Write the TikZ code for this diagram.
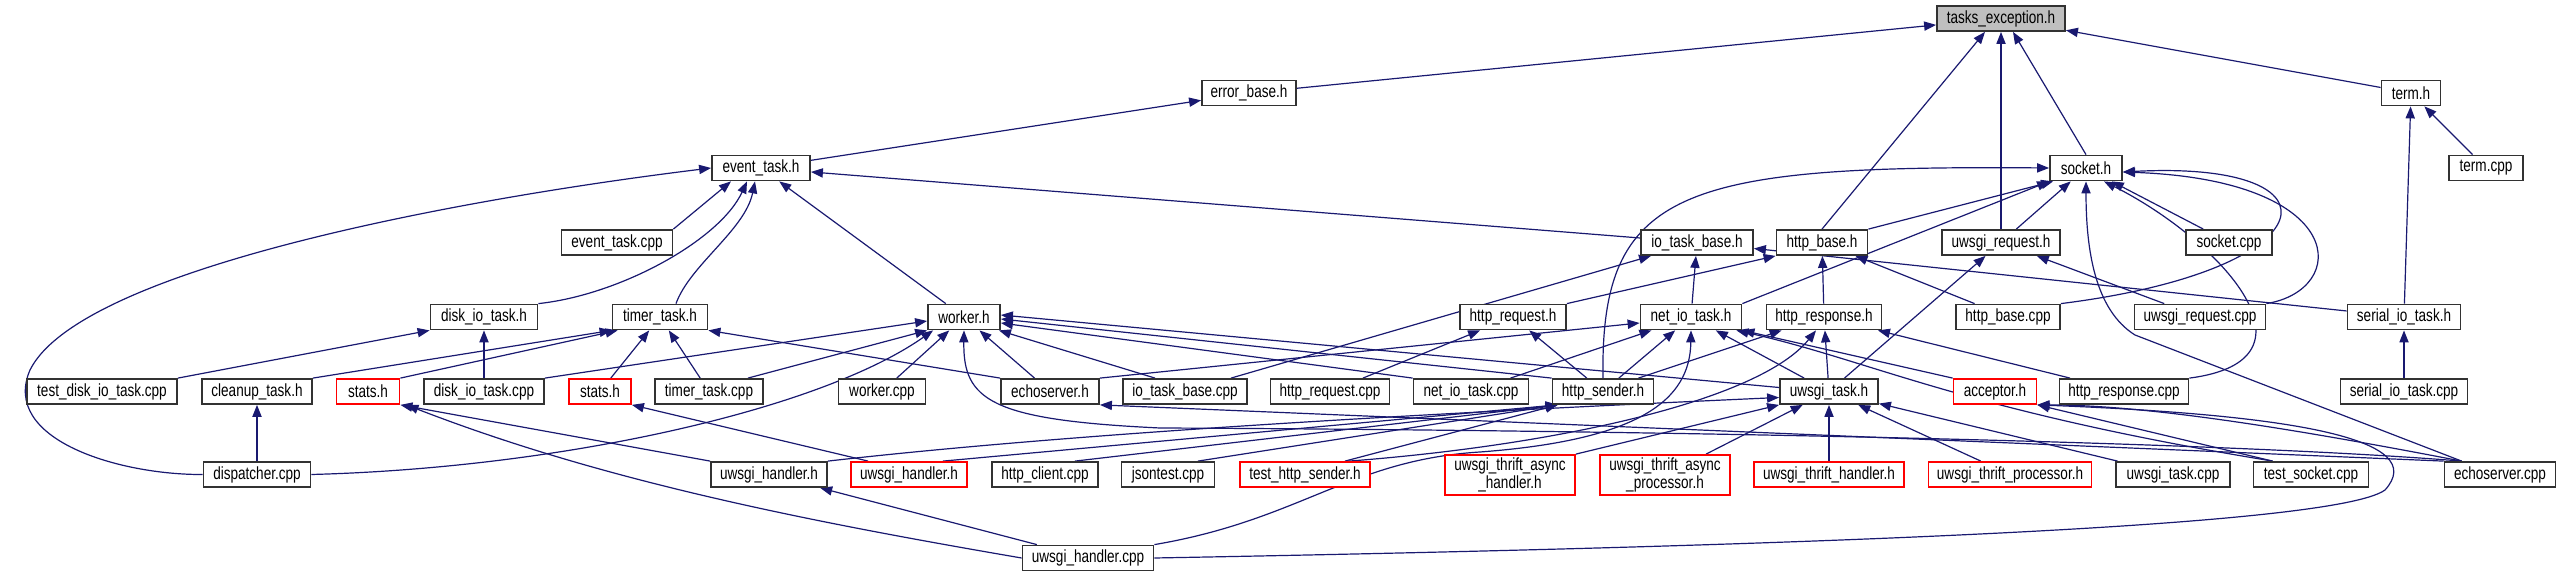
\documentclass[tikz,border=0pt]{standalone}
\usepackage{fontspec}
\newfontfamily\doxfont[FakeStretch=0.77]{Liberation Sans}
\usetikzlibrary{arrows.meta,positioning,backgrounds}
\definecolor{dxedge}{RGB}{25,25,112}
\definecolor{dxline}{RGB}{50,50,50}
\definecolor{dxroot}{RGB}{191,191,191}
\definecolor{dxtrunc}{RGB}{255,0,0}
\tikzset{
  dxbox/.style={
    draw=dxline, line width=0.9pt, fill=white, inner sep=0pt,
    minimum height=12.5pt, align=center,
    font=\doxfont\fontsize{8.8}{7.4}\selectfont
  },
  hdr/.style={dxbox},
  trunc/.style={dxbox, draw=dxtrunc},
  root/.style={dxbox, fill=dxroot},
  arr/.style={-{Triangle[length=6pt,width=4.6pt]}, draw=dxedge, line width=0.6pt}
}

\begin{document}
\begin{tikzpicture}[x=0.5pt,y=-0.5pt]
  \useasboundingbox (0,0) rectangle (2560,576);
  % rows of the include graph
  \node[root, minimum width=64pt] (texc) at (2001,18.5) {tasks\_exception.h};
  \node[hdr, minimum width=47pt] (errb) at (1249,93) {error\_base.h};
  \node[hdr, minimum width=29.5pt] (term) at (2411,93) {term.h};
  \node[hdr, minimum width=49pt] (evt) at (761,168) {event\_task.h};
  \node[hdr, minimum width=36pt] (sock) at (2086,168) {socket.h};
  \node[hdr, minimum width=37pt] (termcpp) at (2486,168) {term.cpp};
  \node[hdr, minimum width=55.5pt] (evtcpp) at (617,242.5) {event\_task.cpp};
  \node[hdr, minimum width=56pt] (iob) at (1697,242.5) {io\_task\_base.h};
  \node[hdr, minimum width=45.5pt] (httpb) at (1822,242.5) {http\_base.h};
  \node[hdr, minimum width=59pt] (uwreq) at (2001,242.5) {uwsgi\_request.h};
  \node[hdr, minimum width=43pt] (sockcpp) at (2229,242.5) {socket.cpp};
  \node[hdr, minimum width=53.5pt] (diskh) at (484,317) {disk\_io\_task.h};
  \node[hdr, minimum width=47.5pt] (timerh) at (660,317) {timer\_task.h};
  \node[hdr, minimum width=36pt] (workh) at (964,317) {worker.h};
  \node[hdr, minimum width=53pt] (httpreq) at (1513,317) {http\_request.h};
  \node[hdr, minimum width=50.5pt] (netio) at (1691,317) {net\_io\_task.h};
  \node[hdr, minimum width=57.5pt] (httpresp) at (1824,317) {http\_response.h};
  \node[hdr, minimum width=52pt] (httpbcpp) at (2008,317) {http\_base.cpp};
  \node[hdr, minimum width=65.5pt] (uwreqcpp) at (2200,317) {uwsgi\_request.cpp};
  \node[hdr, minimum width=56.5pt] (serial) at (2404,317) {serial\_io\_task.h};
  \node[hdr, minimum width=75pt] (tdisk) at (102,391.5) {test\_disk\_io\_task.cpp};
  \node[hdr, minimum width=55pt] (cleanup) at (257,391.5) {cleanup\_task.h};
  \node[trunc, minimum width=31.5pt] (statsa) at (368,391.5) {stats.h};
  \node[hdr, minimum width=60pt] (diskcpp) at (484,391.5) {disk\_io\_task.cpp};
  \node[trunc, minimum width=31pt] (statsb) at (600,391.5) {stats.h};
  \node[hdr, minimum width=54pt] (timercpp) at (709,391.5) {timer\_task.cpp};
  \node[hdr, minimum width=43.5pt] (workcpp) at (882,391.5) {worker.cpp};
  \node[hdr, minimum width=49pt] (echoh) at (1050,391.5) {echoserver.h};
  \node[hdr, minimum width=62pt] (iobcpp) at (1185,391.5) {io\_task\_base.cpp};
  \node[hdr, minimum width=59.5pt] (httpreqcpp) at (1330,391.5) {http\_request.cpp};
  \node[hdr, minimum width=57.5pt] (netiocpp) at (1471,391.5) {net\_io\_task.cpp};
  \node[hdr, minimum width=50.5pt] (sender) at (1603,391.5) {http\_sender.h};
  \node[hdr, minimum width=49pt] (uwtask) at (1829,391.5) {uwsgi\_task.h};
  \node[trunc, minimum width=41.5pt] (acc) at (1995,391.5) {acceptor.h};
  \node[hdr, minimum width=64.5pt] (httprespcpp) at (2124,391.5) {http\_response.cpp};
  \node[hdr, minimum width=63.5pt] (serialcpp) at (2404,391.5) {serial\_io\_task.cpp};
  \node[hdr, minimum width=53.5pt] (disp) at (257,474.5) {dispatcher.cpp};
  \node[hdr, minimum width=58pt] (uwhand) at (769,474.5) {uwsgi\_handler.h};
  \node[trunc, minimum width=58pt] (uwhandr) at (909,474.5) {uwsgi\_handler.h};
  \node[hdr, minimum width=53pt] (httpcli) at (1045,474.5) {http\_client.cpp};
  \node[hdr, minimum width=46.5pt] (json) at (1168,474.5) {jsontest.cpp};
  \node[trunc, minimum width=65pt] (tsender) at (1305,474.5) {test\_http\_sender.h};
  \node[trunc, minimum width=65pt, minimum height=20pt] (thasync) at (1510,475) {uwsgi\_thrift\_async\\\_handler.h};
  \node[trunc, minimum width=65pt, minimum height=20pt] (thproc) at (1665,475) {uwsgi\_thrift\_async\\\_processor.h};
  \node[trunc, minimum width=75pt] (thhand) at (1829,474.5) {uwsgi\_thrift\_handler.h};
  \node[trunc, minimum width=81.5pt] (thprocr) at (2010,474.5) {uwsgi\_thrift\_processor.h};
  \node[hdr, minimum width=57pt] (uwtaskcpp) at (2173,474.5) {uwsgi\_task.cpp};
  \node[hdr, minimum width=57.5pt] (tsock) at (2311,474.5) {test\_socket.cpp};
  \node[hdr, minimum width=55.5pt] (echocpp) at (2500,474.5) {echoserver.cpp};
  \node[hdr, minimum width=65.5pt] (uwhandcpp) at (1088,558) {uwsgi\_handler.cpp};

  \begin{scope}[on background layer]
  % tasks_exception.h, error_base.h, term.h
  \draw[arr] (errb) -- (texc);
  \draw[arr] (httpb.north) -- ([xshift=-8pt]texc.south);
  \draw[arr] (uwreq) -- (texc);
  \draw[arr] (sock.north) -- ([xshift=6pt]texc.south);
  \draw[arr] (term) -- (texc);
  \draw[arr] (evt) -- (errb);
  \draw[arr] (termcpp) -- (term);
  \draw[arr] (serial) -- (term);
  \draw[arr] (serialcpp) -- (serial);
  % event_task.h
  \draw[arr] (evtcpp.north east) -- ([xshift=-15pt]evt.south);
  \draw[arr] (diskh.north east) .. controls (620,295) and (720,240) .. ([xshift=-7pt]evt.south);
  \draw[arr] ([xshift=8pt]timerh.north) .. controls (690,265) and (745,230) .. ([xshift=-3pt]evt.south);
  \draw[arr] (workh) -- (evt);
  \draw[arr] (iob) -- (evt);
  \draw[arr] (disp.west) .. controls (120,475) and (0,440) .. (30,370)
    .. controls (80,270) and (450,200) .. (evt.west);
  % socket.h
  \draw[arr] (netio.north east) -- (sock.south west);
  \draw[arr] (httpb.north east) -- ([xshift=2pt]sock.south west);
  \draw[arr] (uwreq) -- (sock);
  \draw[arr] (sockcpp) -- (sock);
  \draw[arr] (sender.north) .. controls (1600,190) and (1680,165) .. (sock.west);
  \draw[arr] ([xshift=9pt]echocpp.north west) -- (2135,335) .. controls (2095,310) and (2086,250) .. (sock.south);
  \draw[arr] (httpbcpp.north east) .. controls (2330,270) and (2350,160) .. ([yshift=-2pt]sock.east);
  \draw[arr] (uwreqcpp.north east) .. controls (2350,290) and (2350,180) .. ([yshift=-2pt]sock.east);
  \draw[arr] (httprespcpp.north east) .. controls (2330,360) and (2220,240) .. ([xshift=9pt]sock.south);
  % io_task_base.h, http_base.h, http_request.h
  \draw[arr] (netio) -- (iob);
  \draw[arr] (iobcpp) -- (iob);
  \draw[arr] (serial) -- (iob);
  \draw[arr] (httpresp) -- (httpb);
  \draw[arr] (httpbcpp) -- (httpb);
  \draw[arr] (httpreq.north east) -- (httpb.south west);
  \draw[arr] (httpreqcpp) -- (httpreq);
  \draw[arr] (sender) -- (httpreq);
  % net_io_task.h
  \draw[arr] (netiocpp) -- (netio);
  \draw[arr] (sender) -- (netio);
  \draw[arr] (uwtask) -- (netio);
  \draw[arr] (echoh.north east) -- ([yshift=-3pt]netio.west);
  \draw[arr] (acc.north west) -- (netio.south east);
  \draw[arr] ([xshift=10pt]tsock.north west) .. controls (1960,410) and (1870,360) .. ([xshift=-3pt]netio.south east);
  \draw[arr] (uwhandcpp.north east) .. controls (1300,520) and (1350,460) .. (1480,452)
    .. controls (1640,440) and (1690,400) .. (netio.south);
  % http_response.h, http_sender.h
  \draw[arr] (httprespcpp) -- (httpresp);
  \draw[arr] (uwtask) -- (httpresp);
  \draw[arr] ([xshift=-8pt]sender.north east) -- ([xshift=8pt]httpresp.south west);
  \draw[arr] ([xshift=22pt]tsender.north) .. controls (1560,445) and (1760,400) .. ([xshift=-4pt]httpresp.south);
  \draw[arr] ([xshift=20pt]tsender.north) -- ([xshift=3pt]sender.south west);
  \draw[arr] ([xshift=15pt]json.north) -- ([xshift=3pt]sender.south west);
  \draw[arr] ([xshift=15pt]httpcli.north) -- ([xshift=3pt]sender.south west);
  \draw[arr] ([xshift=17pt]uwhandr.north) -- ([xshift=3pt]sender.south west);
  % uwsgi_task.h, uwsgi_request.h
  \draw[arr] (thasync.north east) -- (uwtask.south west);
  \draw[arr] (thproc) -- (uwtask);
  \draw[arr] (thhand) -- (uwtask);
  \draw[arr] (thprocr) -- (uwtask);
  \draw[arr] (uwtaskcpp) -- (uwtask);
  \draw[arr] (uwhand.north east) .. controls (1100,430) and (1500,410) .. ([yshift=-3pt]uwtask.west);
  \draw[arr] (uwtask) -- (uwreq);
  \draw[arr] (uwreqcpp) -- (uwreq);
  % acceptor.h
  \draw[arr] (uwhandcpp.east) .. controls (1700,548) and (2330,530) .. (2385,490)
    .. controls (2430,440) and (2300,415) .. (acc.south east);
  \draw[arr] ([xshift=10pt]tsock.north west) -- (acc.south east);
  \draw[arr] ([xshift=9pt]echocpp.north west) .. controls (2300,430) and (2150,405) .. (acc.south east);
  % worker.h
  \draw[arr] (diskcpp.north east) -- ([yshift=-2pt]workh.west);
  \draw[arr] ([xshift=-8pt]timercpp.north east) -- (workh.south west);
  \draw[arr] (disp.east) .. controls (560,468) and (820,410) .. ([xshift=3pt]workh.south west);
  \draw[arr] (workcpp) -- (workh);
  \draw[arr] (echoh) -- (workh);
  \draw[arr] ([xshift=-15pt]iobcpp.north) -- ([xshift=-1pt]workh.south east);
  \draw[arr] (netiocpp.north west) -- ([yshift=-3pt]workh.east);
  \draw[arr] (sender.north west) -- ([yshift=-1pt]workh.east);
  \draw[arr] ([yshift=2pt]uwtask.west) -- ([yshift=1pt]workh.east);
  \draw[arr] ([xshift=9pt]echocpp.north west) .. controls (2200,440) and (1600,430) .. (1160,428)
    .. controls (990,420) and (963,400) .. (workh.south);
  % timer_task.h, disk_io_task.h, and the rest
  \draw[arr] (cleanup.north east) -- (timerh.south west);
  \draw[arr] (statsa.north east) -- ([xshift=3pt]timerh.south west);
  \draw[arr] (statsb) -- (timerh);
  \draw[arr] (timercpp) -- (timerh);
  \draw[arr] (echoh.north west) -- (timerh.south east);
  \draw[arr] (tdisk.north east) -- (diskh.south west);
  \draw[arr] (diskcpp) -- (diskh);
  \draw[arr] (disp) -- (cleanup);
  \draw[arr] (uwhand.north west) -- (statsa.south east);
  \draw[arr] (uwhandcpp.west) .. controls (800,520) and (600,480) .. ([xshift=3pt]statsa.south east);
  \draw[arr] ([xshift=9pt]uwhandr.north west) -- (statsb.south east);
  \draw[arr] (uwhandcpp) -- (uwhand);
  \draw[arr] (echocpp.north west) -- (echoh.south east);
  \end{scope}
\end{tikzpicture}
\end{document}
